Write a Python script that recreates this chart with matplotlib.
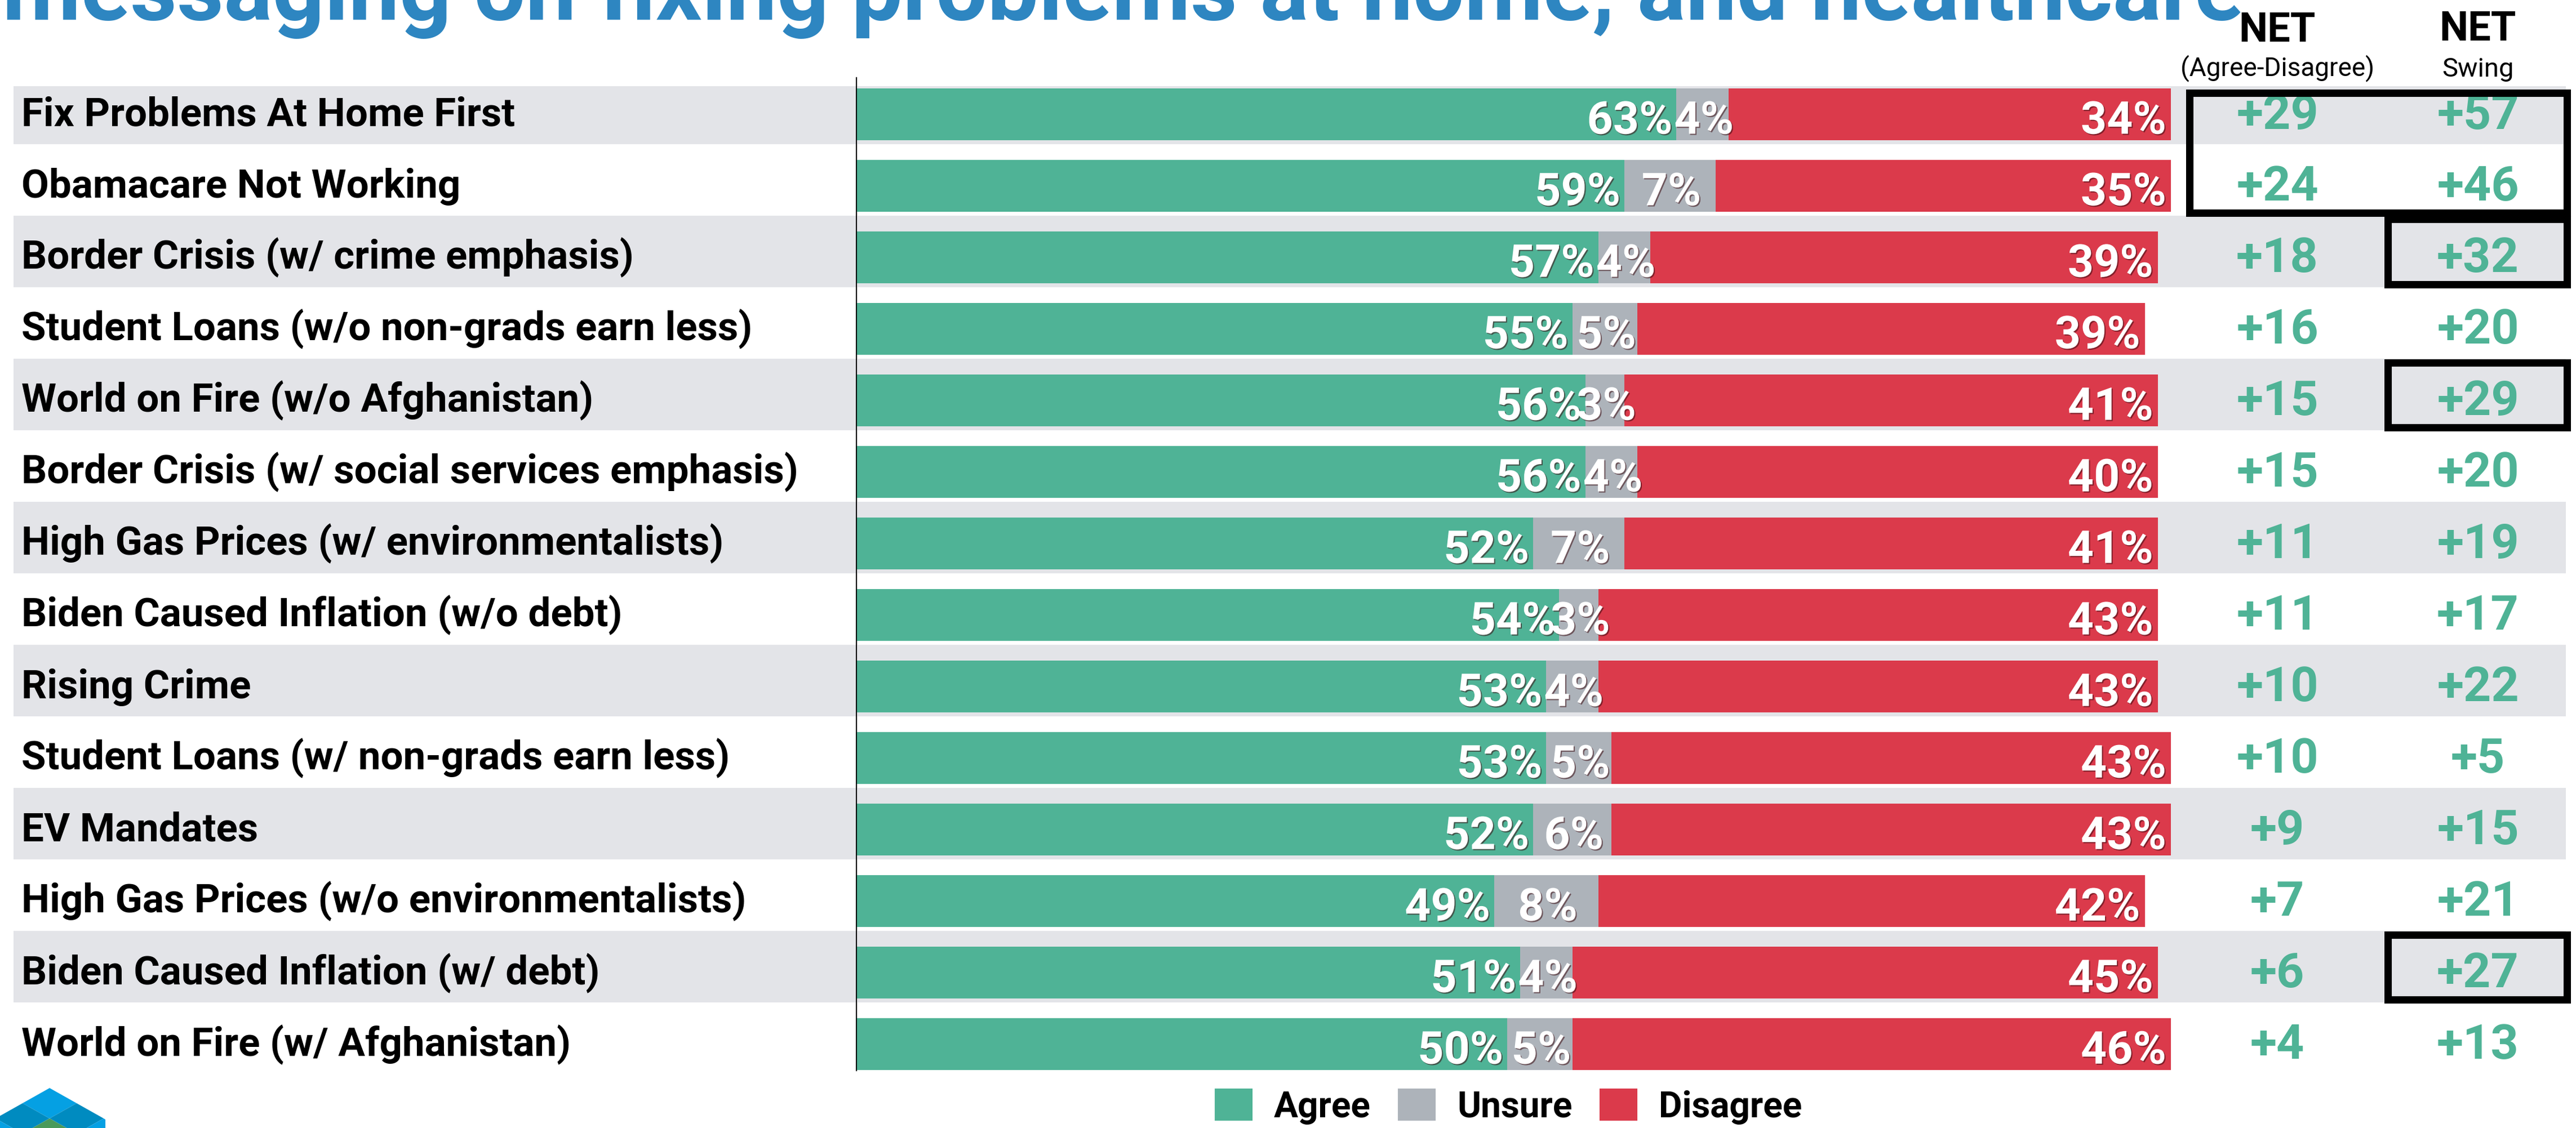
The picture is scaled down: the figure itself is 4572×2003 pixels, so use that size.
import matplotlib
matplotlib.use("Agg")
import matplotlib.pyplot as plt
import matplotlib.patheffects as pe
from matplotlib import font_manager
from matplotlib.patches import Rectangle, Polygon, Patch
from matplotlib.transforms import blended_transform_factory
import numpy as np

# survey results, top row first
messages = [
    "Fix Problems At Home First",
    "Obamacare Not Working",
    "Border Crisis (w/ crime emphasis)",
    "Student Loans (w/o non-grads earn less)",
    "World on Fire (w/o Afghanistan)",
    "Border Crisis (w/ social services emphasis)",
    "High Gas Prices (w/ environmentalists)",
    "Biden Caused Inflation (w/o debt)",
    "Rising Crime",
    "Student Loans (w/ non-grads earn less)",
    "EV Mandates",
    "High Gas Prices (w/o environmentalists)",
    "Biden Caused Inflation (w/ debt)",
    "World on Fire (w/ Afghanistan)",
]
agree = [63, 59, 57, 55, 56, 56, 52, 54, 53, 53, 52, 49, 51, 50]
unsure = [4, 7, 4, 5, 3, 4, 7, 3, 4, 5, 6, 8, 4, 5]
disagree = [34, 35, 39, 39, 41, 40, 41, 43, 43, 43, 43, 42, 45, 46]
net = [29, 24, 18, 16, 15, 15, 11, 11, 10, 10, 9, 7, 6, 4]
net_swing = [57, 46, 32, 20, 29, 20, 19, 17, 22, 5, 15, 21, 27, 13]

# boxed cells: (first row, last row, first column, last column)
highlights = [(0, 1, 0, 1), (2, 2, 1, 1), (4, 4, 1, 1), (12, 12, 1, 1)]

title_text = "messaging on fixing problems at home, and healthcare"

GREEN = "#4FB396"
GREY = "#ADB3BA"
RED = "#DB3A4B"
BAND = "#E3E4E8"
BLUE = "#2E86C1"

W, H = 4572, 2003

available = {f.name for f in font_manager.fontManager.ttflist}
FONT = next((f for f in ["Roboto", "Lato", "Open Sans"] if f in available), "DejaVu Sans")
plt.rcParams["font.family"] = [FONT, "DejaVu Sans"]


def fx(px):
    return px / W


def fy(py):
    return 1 - py / H


fig = plt.figure(figsize=(W / 100, H / 100), dpi=100)

# bar panel: 0% sits at x=1520px, 23.1px per percentage point
ax = fig.add_axes([fx(1520), fy(1901), 105 * 23.1 / W, (1901 - 138) / H])
ax.set_xlim(0, 105)
ax.set_ylim(13.37, -0.51)
ax.patch.set_alpha(0)
for side in ["top", "right", "bottom"]:
    ax.spines[side].set_visible(False)
ax.spines["left"].set_linewidth(1.5)
ax.set_xticks([])
ax.set_yticks([])

y = np.arange(len(messages))
agree_a = np.array(agree)
unsure_a = np.array(unsure)
disagree_a = np.array(disagree)

rowx = blended_transform_factory(fig.transFigure, ax.transData)

# alternating row stripes across the whole table
for i in range(0, len(messages), 2):
    top = max(i - 0.58, -0.39)
    ax.add_patch(Rectangle((fx(24), top), fx(4554) - fx(24), i + 0.42 - top,
                           transform=rowx, facecolor=BAND, edgecolor="none",
                           clip_on=False, zorder=0))

ax.barh(y, agree_a, height=0.72, color=GREEN, zorder=2)
ax.barh(y, unsure_a, left=agree_a, height=0.72, color=GREY, zorder=2)
ax.barh(y, disagree_a, left=agree_a + unsure_a, height=0.72, color=RED, zorder=2)

shadow = [pe.SimplePatchShadow(offset=(1.5, -1.5), shadow_rgbFace="#3a0a10", alpha=0.55),
          pe.Normal()]
pct_kw = dict(color="white", fontsize=58, fontweight="bold", va="baseline",
              textcoords="offset points", path_effects=shadow, zorder=4)
for i in range(len(messages)):
    a, u, d = agree[i], unsure[i], disagree[i]
    ax.annotate(f"{a}%", (a, i), xytext=(-5, -25), ha="right", **pct_kw)
    ax.annotate(f"{u}%", (a + u / 2, i), xytext=(2, -25), ha="center", **pct_kw)
    ax.annotate(f"{d}%", (a + u + d, i), xytext=(-6, -25), ha="right", **pct_kw)

# message labels on the left
for i, label in enumerate(messages):
    ax.annotate(label, (fx(38), i), xycoords=rowx, xytext=(0, -15),
                textcoords="offset points", ha="left", va="baseline",
                fontsize=51, fontweight="bold", color="black", zorder=4)

# NET columns
col_x = [fx(4042), fx(4398)]
for i in range(len(messages)):
    for cx, val in zip(col_x, [net[i], net_swing[i]]):
        ax.annotate(f"+{val}", (cx, i), xycoords=rowx, xytext=(0, -19),
                    textcoords="offset points", ha="center", va="baseline",
                    fontsize=62, fontweight="bold", color=GREEN, zorder=4)

fig.text(col_x[0], fy(74), "NET", ha="center", va="baseline",
         fontsize=52, fontweight="bold", color="black")
fig.text(col_x[1], fy(72), "NET", ha="center", va="baseline",
         fontsize=52, fontweight="bold", color="black")
fig.text(col_x[0], fy(134), "(Agree-Disagree)", ha="center", va="baseline",
         fontsize=33, color="black")
fig.text(col_x[1], fy(136), "Swing", ha="center", va="baseline",
         fontsize=34, color="black")

# black frames around the standout NET values
col_left = [fx(3886), fx(4238)]
col_right = fx(4556)
for r0, r1, c0, c1 in highlights:
    top = max(r0 - 0.53, -0.30)
    bottom = r1 + 0.38
    ax.add_patch(Rectangle((col_left[c0], top), col_right - col_left[c0], bottom - top,
                           transform=rowx, facecolor="none", edgecolor="black",
                           linewidth=9.4, joinstyle="miter", clip_on=False, zorder=5))

# legend
handles = [Patch(facecolor=GREEN, label="Agree"),
           Patch(facecolor=GREY, label="Unsure"),
           Patch(facecolor=RED, label="Disagree")]
fig.legend(handles=handles, loc="center", bbox_to_anchor=(fx(2677), fy(1965)),
           ncol=3, frameon=False, prop=dict(family=[FONT, "DejaVu Sans"], weight="bold", size=46),
           handlelength=1.05, handleheight=1.0, handletextpad=0.6, columnspacing=0.75,
           borderpad=0, borderaxespad=0)

# title line, running off the top edge
title = fig.text(fx(4), fy(35), title_text, ha="left", va="baseline",
                 fontsize=100, fontweight="bold", color=BLUE, zorder=1)
fig.canvas.draw()
tw = title.get_window_extent().width
title.set_fontsize(100 * 3978 / tw)

# logo corner
def rhomb(pts, color):
    fig.patches.append(Polygon([(fx(px), fy(py)) for px, py in pts], closed=True,
                               transform=fig.transFigure, facecolor=color,
                               edgecolor="none", figure=fig))

rhomb([(88, 1932), (40, 1959), (88, 1986), (136, 1959)], "#05A0E3")
rhomb([(40, 1959), (-8, 1986), (40, 2013), (88, 1986)], "#008BC0")
rhomb([(136, 1959), (88, 1986), (136, 2013), (184, 1986)], "#008BC0")
rhomb([(88, 1986), (40, 2013), (88, 2040), (136, 2013)], "#4A9A5A")
rhomb([(184, 1986), (136, 2013), (136, 2050), (187, 2050), (187, 1988)], "#05A0E3")
rhomb([(-8, 1986), (40, 2013), (40, 2050), (-8, 2050)], "#05A0E3")

fig.savefig("out.png", dpi=100, facecolor="white")
